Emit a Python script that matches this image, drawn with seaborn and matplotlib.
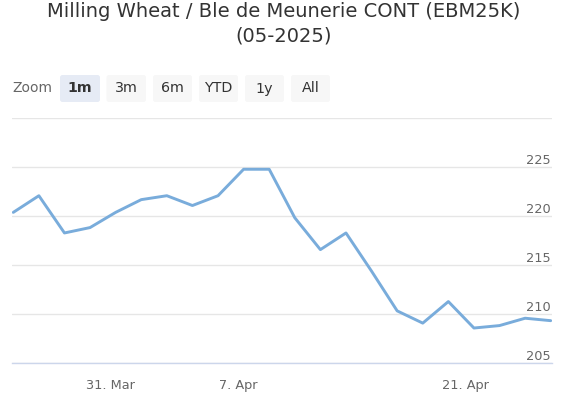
import numpy as np
import pandas as pd
import matplotlib
matplotlib.use("Agg")
import matplotlib.pyplot as plt
import matplotlib.transforms as mtransforms
from matplotlib.patches import FancyBboxPatch
import seaborn as sns

# ---- data ----
dates = ["2025-03-25", "2025-03-26", "2025-03-27", "2025-03-28", "2025-03-31",
         "2025-04-01", "2025-04-02", "2025-04-03", "2025-04-04", "2025-04-07",
         "2025-04-08", "2025-04-09", "2025-04-10", "2025-04-11", "2025-04-14",
         "2025-04-15", "2025-04-16", "2025-04-17", "2025-04-22", "2025-04-23",
         "2025-04-24", "2025-04-25"]
prices = [220.4, 222.1, 218.3, 218.85, 220.4, 221.7, 222.1, 221.1, 222.1, 224.8,
          224.8, 219.85, 216.6, 218.3, 214.4, 210.35, 209.1, 211.3, 208.6, 208.85,
          209.6, 209.35]
tick_dates = ["2025-03-31", "2025-04-07", "2025-04-21"]
tick_labels = ["31. Mar", "7. Apr", "21. Apr"]
y_ticks = [205, 210, 215, 220, 225, 230]
y_labels = ["205", "210", "215", "220", "225"]
zoom_buttons = ["1m", "3m", "6m", "YTD", "1y", "All"]
title_line1 = "Milling Wheat / Ble de Meunerie CONT (EBM25K)"
title_line2 = "(05-2025)"

sns.set_style("white")
plt.rcParams["font.family"] = ["DejaVu Sans"]

W, H = 568, 399
fig = plt.figure(figsize=(W / 100, H / 100), dpi=100)

# plot area in pixels
left, right, top, bottom = 12, 552, 118.3, 363.3
ax = fig.add_axes([left / W, (H - bottom) / H, (right - left) / W, (bottom - top) / H])

# ordinal (trading-day) x axis
idx = np.arange(len(dates))
df = pd.DataFrame({"i": idx, "price": prices})
sns.lineplot(data=df, x="i", y="price", ax=ax, color="#79acdb", linewidth=2.1)

# tick positions interpolated along the ordinal axis (data stamped late in the day)
data_ts = (pd.to_datetime(dates) + pd.Timedelta(hours=16)).astype("int64").to_numpy()
tick_ts = pd.to_datetime(tick_dates).astype("int64").to_numpy()
tick_pos = np.interp(tick_ts, data_ts, idx)

ax.set_xlim(-0.05, 21.05)
ax.set_ylim(205, 230)
ax.set_xticks(tick_pos)
ax.set_xticklabels(tick_labels)
ax.set_yticks(y_ticks)
ax.set_yticklabels([])
ax.set_xlabel("")
ax.set_ylabel("")
ax.tick_params(axis="x", length=8, width=1, color="#ccd6eb", labelcolor="#666666",
               labelsize=9.3, pad=3)
ax.tick_params(axis="y", length=0)
ax.grid(axis="y", color="#e6e6e6", linewidth=1)
ax.grid(axis="x", visible=False)
for s in ["top", "left", "right"]:
    ax.spines[s].set_visible(False)
ax.spines["bottom"].set_color("#ccd6eb")
ax.spines["bottom"].set_linewidth(1)
ax.set_axisbelow(True)

# y labels on the right, just above gridlines
trans = mtransforms.offset_copy(ax.get_yaxis_transform(), fig=fig, x=-1, y=3, units="dots")
for v, lab in zip(y_ticks, y_labels):
    ax.text(1.0, v, lab, transform=trans, ha="right", va="baseline",
            fontsize=9.3, color="#666666")

# overlay for title and zoom buttons (pixel coords)
ov = fig.add_axes([0, 0, 1, 1], zorder=-1)
ov.set_xlim(0, W)
ov.set_ylim(H, 0)
ov.axis("off")

ov.text(W / 2, 17, title_line1, ha="center", va="baseline", fontsize=14, color="#333333")
ov.text(W / 2, 41, title_line2, ha="center", va="baseline", fontsize=14, color="#333333")

ov.text(12.5, 88.5, "Zoom", ha="left", va="center", fontsize=10, color="#666666")
btn_x = [60, 106.5, 153, 199, 245, 291]
btn_w = [40, 39.5, 39, 39, 39, 39]
for j, (lab, bx, bw) in enumerate(zip(zoom_buttons, btn_x, btn_w)):
    active = j == 0
    patch = FancyBboxPatch((bx, 75), bw, 27, boxstyle="round,pad=0,rounding_size=2.5",
                           facecolor="#e6ebf5" if active else "#f7f7f7",
                           edgecolor="none")
    ov.add_patch(patch)
    ov.text(bx + bw / 2, 88.5, lab, ha="center", va="center", fontsize=10.3,
            color="#333333", fontweight="bold" if active else "normal")

fig.savefig("out.png", dpi=100, facecolor="white")
